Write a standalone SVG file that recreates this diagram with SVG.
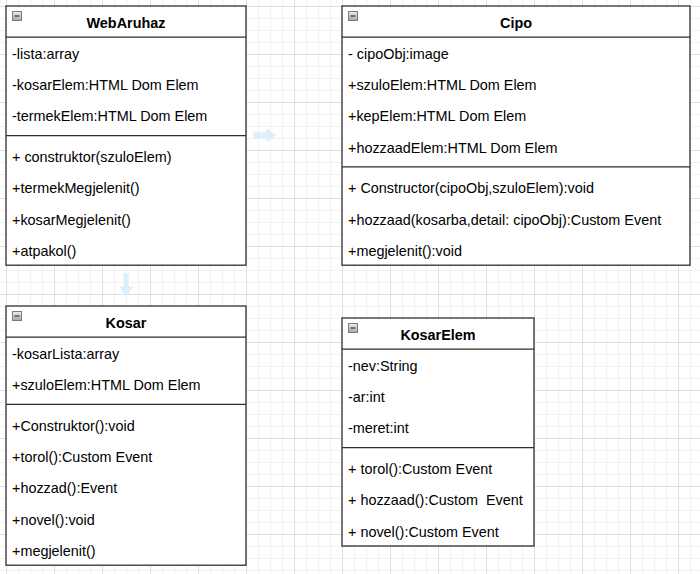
<svg xmlns="http://www.w3.org/2000/svg" width="700" height="574" viewBox="0 0 700 574">
<style>
.box{fill:#ffffff;stroke:#2e2e2e;stroke-width:1.3}
.sep{stroke:#2e2e2e;stroke-width:1.3;fill:none}
.t{font-family:"Liberation Sans",Arial,sans-serif;font-size:14.4px;fill:#000000;white-space:pre}
.h{font-family:"Liberation Sans",Arial,sans-serif;font-size:14.4px;font-weight:bold;fill:#000000;text-anchor:middle}
.ic{fill:url(#icg);stroke:#7a7a7a;stroke-width:1}
.icm{stroke:#333333;stroke-width:1.2}
.hint{fill:#dbeffc}
</style>
<defs>
<linearGradient id="icg" x1="0" y1="0" x2="0" y2="1">
<stop offset="0" stop-color="#eeeeee"/>
<stop offset="1" stop-color="#a6a6a6"/>
</linearGradient>
<pattern id="grid" x="6" y="6" width="48" height="48" patternUnits="userSpaceOnUse">
<path d="M12.5 0V48M24.5 0V48M36.5 0V48M0 12.5H48M0 24.5H48M0 36.5H48" stroke="#f1f1f1" stroke-width="1" fill="none"/>
<path d="M0.5 0V48M0 0.5H48" stroke="#dfdfdf" stroke-width="1" fill="none"/>
</pattern>
</defs>
<rect x="0" y="0" width="700" height="574" fill="#ffffff"/>
<rect x="0" y="0" width="700" height="574" fill="url(#grid)"/>

<g id="hover-arrows">
<polygon class="hint" points="253.3,132.3 266,132.3 266,128.3 276.7,135.3 266,142.3 266,138.3 253.3,138.3"/>
<polygon class="hint" points="123.3,273.3 128.7,273.3 128.7,286.7 133.3,286.7 126,296.7 119.3,286.7 123.3,286.7"/>
</g>

<g id="connectors"></g>

<g id="WebAruhaz">
<rect class="box" x="6" y="6" width="240" height="259.2"/>
<line class="sep" x1="6" y1="37.2" x2="246" y2="37.2"/>
<line class="sep" x1="6" y1="135.6" x2="246" y2="135.6"/>
<rect class="ic" x="12.5" y="11.5" width="9" height="9"/>
<line class="icm" x1="14.5" y1="16" x2="19.5" y2="16"/>
<text class="h" x="126" y="27.6">WebAruhaz</text>
<text class="t" x="12" y="59">-lista:array</text>
<text class="t" x="12" y="90.2">-kosarElem:HTML Dom Elem</text>
<text class="t" x="12" y="121.4">-termekElem:HTML Dom Elem</text>
<text class="t" x="12" y="162.2">+ construktor(szuloElem)</text>
<text class="t" x="12" y="193.4">+termekMegjelenit()</text>
<text class="t" x="12" y="224.6">+kosarMegjelenit()</text>
<text class="t" x="12" y="255.8">+atpakol()</text>
</g>

<g id="Cipo">
<rect class="box" x="342" y="6" width="348" height="259.2"/>
<line class="sep" x1="342" y1="37.2" x2="690" y2="37.2"/>
<line class="sep" x1="342" y1="166.8" x2="690" y2="166.8"/>
<rect class="ic" x="348.5" y="11.5" width="9" height="9"/>
<line class="icm" x1="350.5" y1="16" x2="355.5" y2="16"/>
<text class="h" x="516" y="27.6">Cipo</text>
<text class="t" x="348" y="59">- cipoObj:image</text>
<text class="t" x="348" y="90.2">+szuloElem:HTML Dom Elem</text>
<text class="t" x="348" y="121.4">+kepElem:HTML Dom Elem</text>
<text class="t" x="348" y="152.6">+hozzaadElem:HTML Dom Elem</text>
<text class="t" x="348" y="193.4">+ Constructor(cipoObj,szuloElem):void</text>
<text class="t" x="348" y="224.6">+hozzaad(kosarba,detail: cipoObj):Custom Event</text>
<text class="t" x="348" y="255.8">+megjelenit():void</text>
</g>

<g id="Kosar">
<rect class="box" x="6" y="306" width="240" height="259.2"/>
<line class="sep" x1="6" y1="337.2" x2="246" y2="337.2"/>
<line class="sep" x1="6" y1="404.4" x2="246" y2="404.4"/>
<rect class="ic" x="12.5" y="311.5" width="9" height="9"/>
<line class="icm" x1="14.5" y1="316" x2="19.5" y2="316"/>
<text class="h" x="126" y="327.6">Kosar</text>
<text class="t" x="12" y="359">-kosarLista:array</text>
<text class="t" x="12" y="390.2">+szuloElem:HTML Dom Elem</text>
<text class="t" x="12" y="431">+Construktor():void</text>
<text class="t" x="12" y="462.2">+torol():Custom Event</text>
<text class="t" x="12" y="493.4">+hozzad():Event</text>
<text class="t" x="12" y="524.6">+novel():void</text>
<text class="t" x="12" y="555.8">+megjelenit()</text>
</g>

<g id="KosarElem">
<rect class="box" x="342" y="318" width="192" height="228"/>
<line class="sep" x1="342" y1="349.2" x2="534" y2="349.2"/>
<line class="sep" x1="342" y1="447.6" x2="534" y2="447.6"/>
<rect class="ic" x="348.5" y="323.5" width="9" height="9"/>
<line class="icm" x1="350.5" y1="328" x2="355.5" y2="328"/>
<text class="h" x="438" y="339.6">KosarElem</text>
<text class="t" x="348" y="371">-nev:String</text>
<text class="t" x="348" y="402.2">-ar:int</text>
<text class="t" x="348" y="433.4">-meret:int</text>
<text class="t" x="348" y="474.2">+ torol():Custom Event</text>
<text class="t" x="348" y="505.4" xml:space="preserve">+ hozzaad():Custom  Event</text>
<text class="t" x="348" y="536.6">+ novel():Custom Event</text>
</g>
</svg>
